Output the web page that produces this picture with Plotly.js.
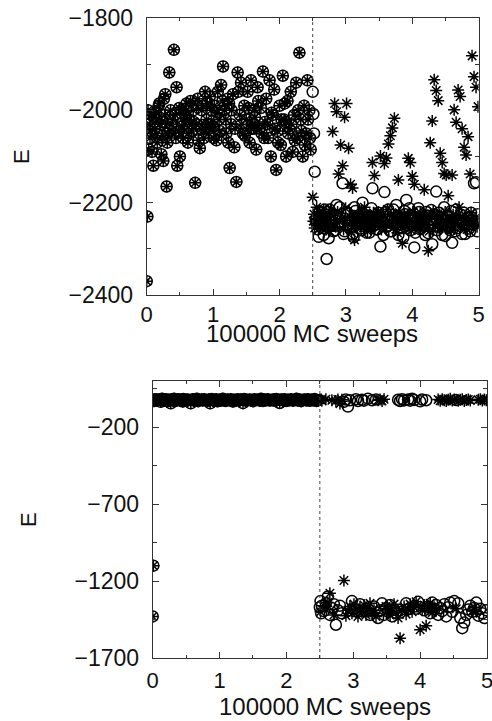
<!DOCTYPE html>
<html>
<head>
<meta charset="utf-8">
<script src="https://cdn.plot.ly/plotly-3.0.1.min.js"></script>
<style>html,body{margin:0;padding:0;background:#fff;}#chart{width:492px;height:721px;}</style>
</head>
<body>
<div id="chart"></div>
<script>
// sweep positions (units of 100000 MC sweeps) before the switch at 2.5 — both series coincide here
const preX = [
0.00,0.01,0.02,0.03,0.05,0.07,0.10,0.12,0.14,0.16,
0.18,0.20,0.22,0.25,0.27,0.28,0.30,0.32,0.34,0.36,
0.38,0.41,0.43,0.45,0.46,0.48,0.50,0.52,0.55,0.57,
0.60,0.62,0.64,0.66,0.68,0.70,0.73,0.75,0.77,0.80,
0.82,0.84,0.86,0.88,0.90,0.93,0.95,0.97,1.00,1.02,
1.05,1.07,1.09,1.12,1.15,1.17,1.20,1.22,1.25,1.27,
1.30,1.32,1.35,1.37,1.40,1.42,1.45,1.47,1.50,1.52,
1.55,1.57,1.60,1.62,1.65,1.67,1.70,1.72,1.75,1.77,
1.80,1.82,1.85,1.87,1.90,1.92,1.95,1.97,2.00,2.02,
2.05,2.07,2.10,2.12,2.15,2.17,2.20,2.22,2.25,2.27,
2.30,2.32,2.35,2.37,2.40,2.42,2.45,2.47];

// top panel energies before 2.5
const preTopE = [
-2370,-2230,-2000,-2085,-2060,-2010,-2120,-2040,-2005,-2070,
-1990,-2030,-2095,-2110,-2010,-1965,-2165,-2050,-1918,-2000,
-2030,-1869,-2010,-1950,-2120,-2045,-2100,-2000,-2060,-2030,
-1985,-2070,-2020,-1980,-2045,-2000,-2157,-2030,-1975,-2082,
-2040,-1990,-2060,-1960,-2020,-2050,-1970,-2000,-2035,-1990,
-2065,-1960,-2020,-1945,-1905,-2000,-2050,-1975,-2125,-2030,
-1965,-2080,-2155,-1918,-2010,-1940,-2050,-1990,-2020,-1960,
-2070,-1935,-2030,-2000,-2085,-1950,-2040,-1995,-1916,-2060,
-1975,-2030,-1935,-2100,-2010,-1955,-2129,-2045,-1990,-2075,
-1925,-2020,-2100,-1980,-2040,-1960,-2090,-2010,-1940,-2060,
-1875,-2020,-2100,-1990,-2050,-1935,-2000,-2085];

// additional top-panel samples before 2.5 (both series coincide)
const preX2 = [
0.04,0.08,0.11,0.15,0.19,0.23,0.26,0.31,0.35,0.39,
0.44,0.49,0.53,0.58,0.63,0.67,0.71,0.78,0.83,0.87,
0.91,0.96,1.01,1.06,1.10,1.14,1.19,1.23,1.28,1.33,
1.38,1.43,1.48,1.53,1.58,1.63,1.68,1.73,1.78,1.83,
1.88,1.93,1.98,2.03,2.08,2.13,2.18,2.23,2.28,2.33,
2.38,2.43,2.46,0.06,0.24,0.59,0.92,1.24,1.61,2.09];
const preTopE2 = [
-2030,-2090,-2015,-2050,-1985,-2025,-1975,-2070,-2045,-2020,
-2060,-1995,-2035,-2010,-2050,-1990,-2025,-2065,-2000,-2040,
-1985,-2030,-2060,-2005,-2045,-1980,-2020,-2070,-2000,-2040,
-1960,-2030,-2055,-1995,-2040,-2015,-1980,-2050,-2025,-2060,
-2005,-2040,-2070,-2020,-1985,-2050,-2030,-2065,-2000,-2045,
-2075,-2020,-2060,-2045,-2055,-2015,-2030,-1985,-2040,-2025];

// bottom panel energies before 2.5
const preBotE = [
-1430,-1100,-22,-30,-18,-25,-20,-35,-15,-28,
-24,-19,-32,-22,-45,-20,-27,-16,-30,-23,
-18,-26,-21,-33,-17,-25,-29,-20,-24,-45,
-19,-28,-22,-15,-31,-24,-20,-27,-18,-25,
-30,-21,-45,-17,-26,-23,-19,-32,-22,-28,
-16,-24,-30,-20,-25,-18,-33,-22,-27,-19,
-25,-21,-44,-17,-29,-23,-20,-26,-31,-18,
-24,-22,-28,-16,-30,-21,-25,-19,-27,-23,
-20,-29,-17,-24,-43,-21,-26,-18,-30,-22,
-25,-19,-28,-23,-16,-27,-21,-31,-24,-20,
-26,-18,-29,-22,-25,-17,-30,-23];

// sweep positions after the switch
const postX = [
2.50,2.51,2.52,2.53,2.56,2.59,2.62,2.65,2.68,2.71,
2.74,2.77,2.80,2.83,2.86,2.89,2.92,2.95,2.98,3.01,
3.04,3.07,3.10,3.13,3.16,3.19,3.22,3.25,3.28,3.31,
3.34,3.37,3.40,3.43,3.46,3.49,3.52,3.55,3.58,3.61,
3.64,3.67,3.70,3.73,3.76,3.79,3.82,3.85,3.88,3.91,
3.94,3.97,4.00,4.03,4.06,4.09,4.12,4.15,4.18,4.21,
4.24,4.27,4.30,4.33,4.36,4.39,4.42,4.45,4.48,4.51,
4.54,4.57,4.60,4.63,4.66,4.69,4.72,4.75,4.78,4.81,
4.84,4.87,4.90,4.93,4.96,4.99];

const topCircE = [
-1960,-2008,-2050,-2133,-2245,-2274,-2230,-2255,-2215,-2322,
-2277,-2240,-2225,-2260,-2205,-2248,-2232,-2158,-2262,-2220,
-2250,-2238,-2268,-2210,-2245,-2228,-2256,-2200,-2242,-2265,
-2230,-2250,-2169,-2238,-2258,-2222,-2295,-2240,-2177,-2252,
-2215,-2262,-2235,-2248,-2205,-2270,-2232,-2255,-2218,-2194,
-2245,-2260,-2228,-2297,-2240,-2212,-2258,-2235,-2250,-2220,
-2266,-2238,-2290,-2225,-2176,-2252,-2232,-2270,-2210,-2246,
-2228,-2260,-2287,-2235,-2215,-2255,-2240,-2268,-2222,-2250,
-2232,-2262,-2238,-2158,-2156,-2225];

const topStarE = [
-2188,-2240,-2225,-2255,-2210,-2235,-2250,-2220,-2245,-2232,
-2260,-2215,-2046,-1985,-2003,-2138,-2075,-2120,-2015,-1985,
-2082,-2160,-2168,-2281,-2240,-2225,-2250,-2235,-2210,-2245,
-2228,-2255,-2113,-2141,-2238,-2220,-2099,-2250,-2115,-2103,
-2073,-2055,-2038,-2017,-2230,-2151,-2245,-2288,-2225,-2240,
-2104,-2113,-2143,-2160,-2235,-2250,-2222,-2245,-2172,-2230,
-2304,-2070,-2023,-1934,-1957,-1979,-2093,-2113,-2137,-2140,
-2185,-2240,-2140,-1999,-2026,-1956,-1970,-2040,-2080,-2097,
-2057,-2138,-1882,-1927,-1950,-1992];

// additional top-panel samples after the switch (dense band)
const postX2 = [
2.545,2.575,2.605,2.635,2.665,2.695,2.725,2.755,2.785,2.815,
2.845,2.875,2.905,2.935,2.965,2.995,3.025,3.055,3.085,3.115,
3.145,3.175,3.205,3.235,3.265,3.295,3.325,3.355,3.385,3.415,
3.445,3.475,3.505,3.535,3.565,3.595,3.625,3.655,3.685,3.715,
3.745,3.775,3.805,3.835,3.865,3.895,3.925,3.955,3.985,4.015,
4.045,4.075,4.105,4.135,4.165,4.195,4.225,4.255,4.285,4.315,
4.345,4.375,4.405,4.435,4.465,4.495,4.525,4.555,4.585,4.615,
4.645,4.675,4.705,4.735,4.765,4.795,4.825,4.855,4.885,4.915,
4.945,4.975];
const topCircE2 = [
-2235,-2258,-2220,-2248,-2270,-2230,-2252,-2215,-2240,-2262,
-2228,-2250,-2210,-2245,-2268,-2235,-2222,-2255,-2240,-2275,
-2218,-2248,-2232,-2260,-2225,-2245,-2238,-2265,-2212,-2250,
-2235,-2258,-2228,-2242,-2270,-2220,-2250,-2236,-2262,-2215,
-2245,-2230,-2256,-2240,-2275,-2225,-2250,-2212,-2246,-2232,
-2265,-2238,-2220,-2255,-2242,-2270,-2228,-2250,-2216,-2245,
-2235,-2260,-2222,-2248,-2238,-2272,-2230,-2255,-2218,-2246,
-2262,-2236,-2250,-2226,-2245,-2268,-2232,-2256,-2222,-2248,
-2240,-2262];
const topStarE2 = [
-2242,-2225,-2255,-2232,-2215,-2248,-2238,-2262,-2228,-2245,
-2252,-2220,-2240,-2235,-2258,-2212,-2246,-2230,-2265,-2238,
-2250,-2225,-2242,-2218,-2255,-2236,-2262,-2228,-2245,-2222,
-2250,-2232,-2240,-2258,-2225,-2248,-2215,-2240,-2230,-2255,
-2238,-2265,-2222,-2246,-2235,-2252,-2228,-2242,-2260,-2220,
-2245,-2232,-2255,-2238,-2225,-2250,-2240,-2262,-2230,-2218,
-2248,-2235,-2256,-2228,-2242,-2220,-2252,-2236,-2260,-2226,
-2244,-2232,-2210,-2250,-2238,-2228,-2258,-2240,-2222,-2246,
-2234,-2252];

const botCircE = [
-1370,-1330,-1410,-1360,-1395,-1345,-1300,-1420,-1375,-1350,
-1484,-1390,-1360,-1410,-35,-20,-66,-25,-1330,-1380,
-18,-30,-1350,-22,-28,-1395,-15,-1420,-25,-1365,
-20,-1440,-1390,-1345,-1420,-1375,-1400,-1355,-1430,-1385,
-1410,-22,-30,-18,-26,-1345,-20,-28,-15,-24,
-1380,-1335,-32,-20,-1390,-25,-1365,-1410,-1340,-1385,
-1355,-1420,-1375,-1395,-1350,-1430,-1370,-1340,-1400,-1330,
-24,-1345,-1440,-1506,-1470,-1420,-1385,-1360,-1400,-1375,
-1340,-1425,-1380,-1410,-1440,-1390];

const botStarE = [
-22,-1400,-20,-28,-1360,-18,-1340,-1279,-25,-1420,
-30,-20,-47,-22,-1197,-1425,-1390,-1365,-1410,-1350,
-1385,-1430,-1370,-1400,-1355,-1420,-1380,-1345,-1410,-1390,
-1430,-25,-20,-30,-18,-1365,-1395,-1420,-1380,-1350,
-1405,-1440,-1571,-1390,-1365,-1415,-1385,-1350,-1400,-1370,
-1335,-1360,-1517,-1390,-1355,-1491,-1380,-1345,-1405,-1370,
-1390,-20,-28,-18,-25,-30,-22,-15,-26,-20,
-1380,-28,-22,-18,-30,-24,-20,-26,-1395,-1370,
-1400,-22,-18,-27,-20,-25];

const xTicks = [0,1,2,3,4,5];
const topYTicks = [-2400,-2200,-2000,-1800];
const botYTicks = [-1700,-1200,-700,-200];
const switchX = 2.5;
const xTitle = '100000 MC sweeps';
const yTitle = 'E';

const W = 492, H = 721;
const circ = {symbol:'circle-open', size:11, color:'#000', line:{width:1.5, color:'#000'}};
const star = {symbol:'asterisk-open', size:10, color:'#000', line:{width:1.5, color:'#000'}};

const topX = preX.concat(preX2, postX, postX2);
const traces = [
  {x: topX, y: preTopE.concat(preTopE2, topCircE, topCircE2), xaxis:'x', yaxis:'y', mode:'markers', type:'scatter', marker:circ},
  {x: topX, y: preTopE.concat(preTopE2, topStarE, topStarE2), xaxis:'x', yaxis:'y', mode:'markers', type:'scatter', marker:star},
  {x: preX.concat(postX), y: preBotE.concat(botCircE), xaxis:'x2', yaxis:'y2', mode:'markers', type:'scatter', marker:circ},
  {x: preX.concat(postX), y: preBotE.concat(botStarE), xaxis:'x2', yaxis:'y2', mode:'markers', type:'scatter', marker:star}
];

const axCommon = {
  ticks:'inside', ticklen:6, tickwidth:1, tickcolor:'#333',
  showline:true, linecolor:'#333', linewidth:1, mirror:'ticks',
  showgrid:false, zeroline:false, tickfont:{size:22, color:'#111'},
  ticklabeloverflow:'allow'
};

const layout = {
  width:W, height:H, margin:{l:0,r:0,t:0,b:0}, showlegend:false,
  paper_bgcolor:'#fff', plot_bgcolor:'#fff',
  font:{family:'"Liberation Sans", Arial, sans-serif', size:22, color:'#111'},
  xaxis: Object.assign({}, axCommon, {domain:[146.7/W, 478.7/W], anchor:'y', range:[0,5], tickmode:'array', tickvals:xTicks, ticklabelstandoff:0,
     minor:{tickmode:'array', tickvals:[0.5,1.5,2.5,3.5,4.5], ticks:'inside', ticklen:3, tickcolor:'#333'}}),
  yaxis: Object.assign({}, axCommon, {domain:[1-295/H, 1-18/H], anchor:'x', range:[-2400,-1800], tickmode:'array', tickvals:topYTicks, ticklabelstandoff:8,
     tickfont:{size:23, color:'#111'},
     minor:{tickmode:'array', tickvals:[-2300,-2100,-1900], ticks:'inside', ticklen:4, tickcolor:'#333'}}),
  xaxis2: Object.assign({}, axCommon, {domain:[152.7/W, 487/W], anchor:'y2', range:[0,5], tickmode:'array', tickvals:xTicks, ticklabelstandoff:3,
     minor:{tickmode:'array', tickvals:[0.5,1.5,2.5,3.5,4.5], ticks:'inside', ticklen:3, tickcolor:'#333'}}),
  yaxis2: Object.assign({}, axCommon, {domain:[1-658/H, 1-381/H], anchor:'x2', range:[-1700,100], tickmode:'array', tickvals:botYTicks, ticklabelstandoff:8,
     tickfont:{size:23, color:'#111'},
     minor:{tickmode:'array', tickvals:[-1450,-950,-450,50], ticks:'inside', ticklen:4, tickcolor:'#333'}}),
  shapes: [
    {type:'line', xref:'x', yref:'y domain', x0:switchX, x1:switchX, y0:0, y1:1, line:{color:'#444', width:1, dash:'dot'}},
    {type:'line', xref:'x2', yref:'y2 domain', x0:switchX, x1:switchX, y0:0, y1:1, line:{color:'#444', width:1, dash:'dot'}}
  ],
  annotations: [
    {text:yTitle, xref:'paper', yref:'paper', x:21/W, y:1-157/H, xanchor:'center', yanchor:'middle', textangle:-90, showarrow:false, font:{size:22}},
    {text:yTitle, xref:'paper', yref:'paper', x:28/W, y:1-520/H, xanchor:'center', yanchor:'middle', textangle:-90, showarrow:false, font:{size:22}},
    {text:xTitle, xref:'paper', yref:'paper', x:312/W, y:1-333/H, xanchor:'center', yanchor:'middle', showarrow:false, font:{size:24}},
    {text:xTitle, xref:'paper', yref:'paper', x:325/W, y:1-706/H, xanchor:'center', yanchor:'middle', showarrow:false, font:{size:24}}
  ]
};

Plotly.newPlot('chart', traces, layout, {displayModeBar:false, staticPlot:true});
</script>
</body>
</html>
